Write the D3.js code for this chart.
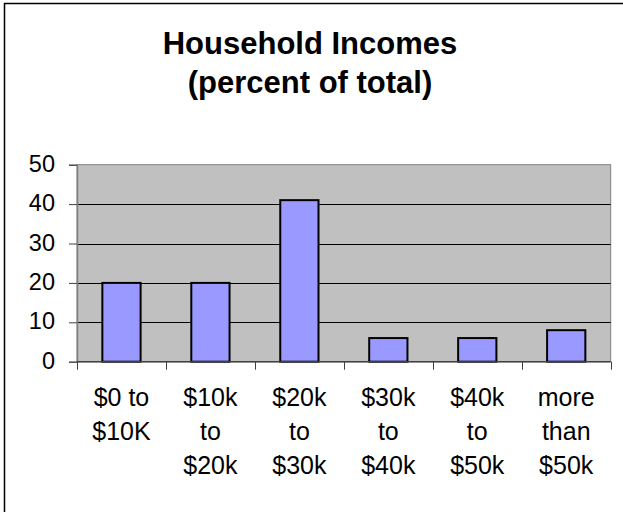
<!DOCTYPE html>
<html>
<head>
<meta charset="utf-8">
<script src="https://cdn.jsdelivr.net/npm/d3@7"></script>
<style>
  html, body { margin: 0; padding: 0; background: #fff; }
  svg { display: block; }
  text { font-family: "Liberation Sans", Arial, sans-serif; fill: #000; }
</style>
</head>
<body>
<svg id="chart" width="623" height="512"></svg>
<script>
// Household income brackets and their share of the total (percent)
const categories = ["$0 to $10K", "$10k to $20k", "$20k to $30k", "$30k to $40k", "$40k to $50k", "more than $50k"];
const categoryLines = [
  ["$0 to", "$10K"],
  ["$10k", "to", "$20k"],
  ["$20k", "to", "$30k"],
  ["$30k", "to", "$40k"],
  ["$40k", "to", "$50k"],
  ["more", "than", "$50k"]
];
const values = [20, 20, 41, 6, 6, 8];
const yTicks = [0, 10, 20, 30, 40, 50];
const titleLines = ["Household Incomes", "(percent of total)"];

const svg = d3.select("#chart");

// outer chart frame
svg.append("rect")
  .attr("x", 4.5).attr("y", 3.5)
  .attr("width", 640).attr("height", 540)
  .attr("fill", "none").attr("stroke", "#000").attr("stroke-width", 1.5);

const plot = { left: 77, right: 610.7, top: 164.7, bottom: 361.7 };

const x = d3.scaleBand()
  .domain(categories)
  .range([plot.left, plot.right])
  .paddingInner(0.57)
  .paddingOuter(0.285);

const xb = d3.scaleBand().domain(categories).range([plot.left, plot.right]);

const y = d3.scaleLinear().domain([0, 50]).range([plot.bottom, plot.top]);

// plot background
svg.append("rect")
  .attr("x", plot.left).attr("y", plot.top)
  .attr("width", plot.right - plot.left).attr("height", plot.bottom - plot.top)
  .attr("fill", "#c0c0c0").attr("stroke", "#808080").attr("stroke-width", 1);

// horizontal gridlines
svg.append("g").selectAll("line")
  .data(yTicks.filter(d => d > 0 && d < 50))
  .join("line")
  .attr("x1", plot.left).attr("x2", plot.right)
  .attr("y1", d => Math.round(y(d)) + 0.5).attr("y2", d => Math.round(y(d)) + 0.5)
  .attr("stroke", "#000").attr("stroke-width", 1);

// bars
svg.append("g").selectAll("rect")
  .data(values)
  .join("rect")
  .attr("x", (d, i) => x(categories[i]))
  .attr("width", x.bandwidth())
  .attr("y", d => y(d))
  .attr("height", d => y(0) - y(d))
  .attr("fill", "#9999ff")
  .attr("stroke", "#000")
  .attr("stroke-width", 2);

// y axis
const yAxis = svg.append("g")
  .attr("transform", `translate(${plot.left},0)`)
  .call(d3.axisLeft(y).tickValues(yTicks).tickSize(8).tickPadding(14).tickFormat(d3.format("d")));
yAxis.select(".domain").attr("stroke", "#808080").attr("stroke-width", 1.5);
yAxis.selectAll(".tick line").attr("stroke", "#404040");
yAxis.selectAll(".tick text")
  .style("font-size", "23.5px")
  .style("font-family", "'Liberation Sans', Arial, sans-serif")
  .attr("dy", "0.28em");

// x axis: tick marks at category boundaries
const xAxis = svg.append("g")
  .attr("transform", `translate(0,${plot.bottom})`);
xAxis.append("line")
  .attr("x1", plot.left).attr("x2", plot.right)
  .attr("y1", 0).attr("y2", 0)
  .attr("stroke", "#404040").attr("stroke-width", 1.5);
const bounds = categories.map(c => xb(c)).concat([plot.right]);
xAxis.selectAll("line.tk")
  .data(bounds)
  .join("line").attr("class", "tk")
  .attr("x1", d => Math.round(d) + 0.5).attr("x2", d => Math.round(d) + 0.5)
  .attr("y1", 0).attr("y2", 8)
  .attr("stroke", "#404040");

// multi-line category labels
const labels = svg.append("g").selectAll("text")
  .data(categoryLines)
  .join("text")
  .attr("text-anchor", "middle")
  .style("font-size", "25px");
labels.each(function (lines, i) {
  const cx = xb(categories[i]) + xb.bandwidth() / 2;
  d3.select(this).selectAll("tspan")
    .data(lines)
    .join("tspan")
    .attr("x", cx)
    .attr("y", (d, j) => 406 + j * 34)
    .text(d => d);
});

// title
svg.append("g").selectAll("text")
  .data(titleLines)
  .join("text")
  .attr("x", 310)
  .attr("y", (d, i) => 54 + i * 39)
  .attr("text-anchor", "middle")
  .style("font-size", "31px")
  .style("font-weight", "bold")
  .text(d => d);
</script>
</body>
</html>
